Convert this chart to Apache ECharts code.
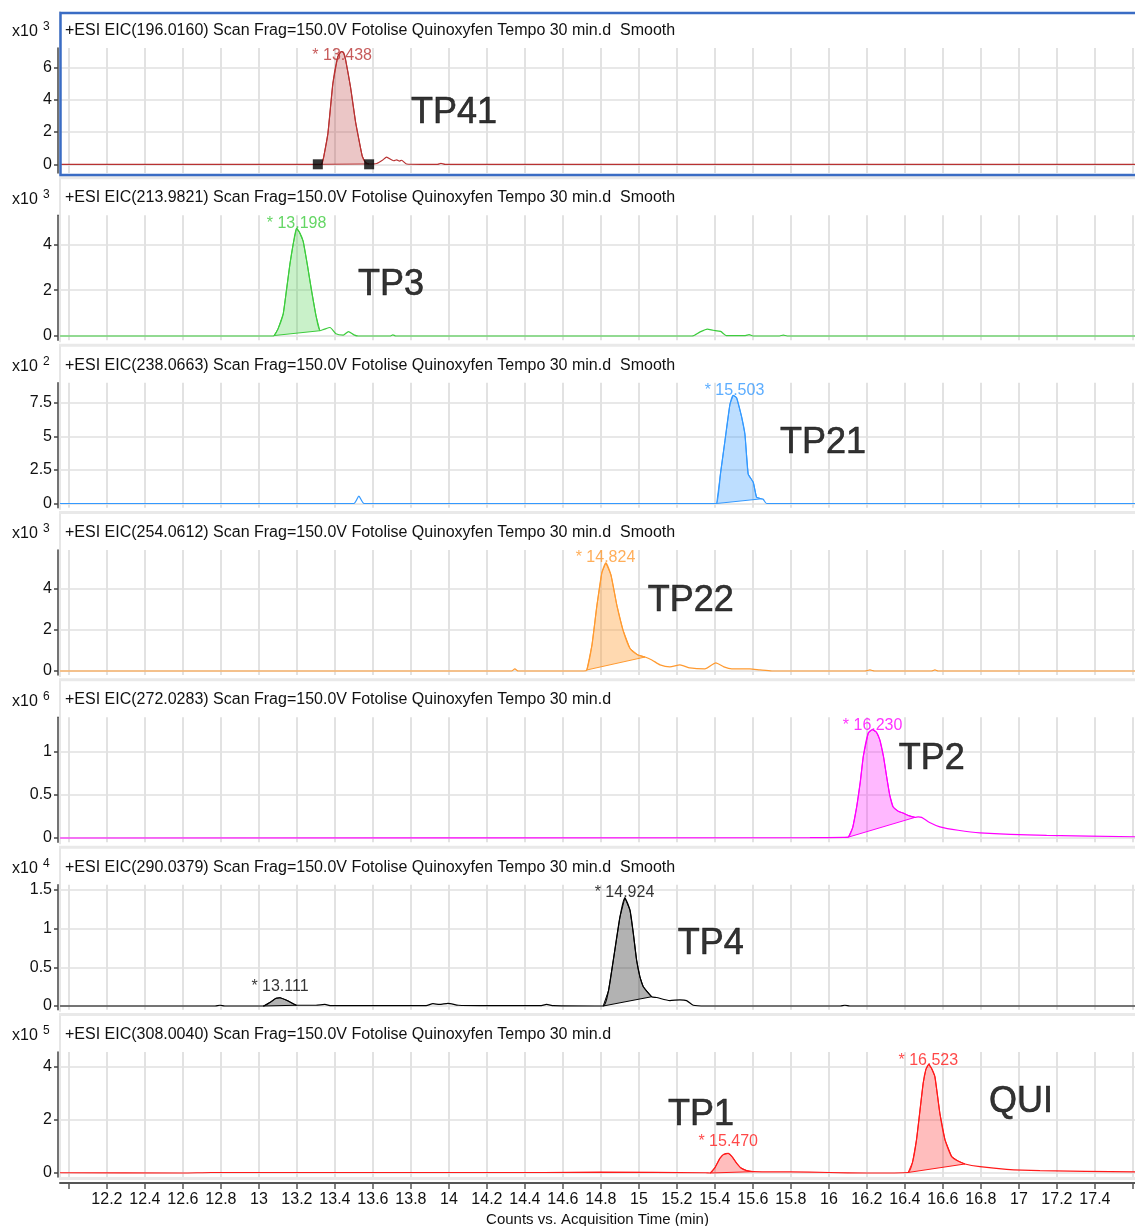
<!DOCTYPE html>
<html>
<head>
<meta charset="utf-8">
<script src="https://cdn.jsdelivr.net/npm/echarts@6/dist/echarts.min.js"></script>
<style>
  html, body { margin: 0; padding: 0; background: #fff; }
  #chart { width: 1135px; height: 1226px; }
</style>
</head>
<body>
<div id="chart"></div>
<script>
// x axis ticks (min) and labels
const timeTicks = [12.0, 12.2, 12.4, 12.6, 12.8, 13.0, 13.2, 13.4, 13.6, 13.8, 14.0, 14.2, 14.4, 14.6, 14.8,
  15.0, 15.2, 15.4, 15.6, 15.8, 16.0, 16.2, 16.4, 16.6, 16.8, 17.0, 17.2, 17.4, 17.6];
const timeLabels = [12.2, 12.4, 12.6, 12.8, 13, 13.2, 13.4, 13.6, 13.8, 14, 14.2, 14.4, 14.6, 14.8,
  15, 15.2, 15.4, 15.6, 15.8, 16, 16.2, 16.4, 16.6, 16.8, 17, 17.2, 17.4];

const headers = [
  '+ESI EIC(196.0160) Scan Frag=150.0V Fotolise Quinoxyfen Tempo 30 min.d  Smooth',
  '+ESI EIC(213.9821) Scan Frag=150.0V Fotolise Quinoxyfen Tempo 30 min.d  Smooth',
  '+ESI EIC(238.0663) Scan Frag=150.0V Fotolise Quinoxyfen Tempo 30 min.d  Smooth',
  '+ESI EIC(254.0612) Scan Frag=150.0V Fotolise Quinoxyfen Tempo 30 min.d  Smooth',
  '+ESI EIC(272.0283) Scan Frag=150.0V Fotolise Quinoxyfen Tempo 30 min.d',
  '+ESI EIC(290.0379) Scan Frag=150.0V Fotolise Quinoxyfen Tempo 30 min.d  Smooth',
  '+ESI EIC(308.0040) Scan Frag=150.0V Fotolise Quinoxyfen Tempo 30 min.d'
];
const exponents = ['3', '3', '2', '3', '6', '4', '5'];
const countTicks = [[0, 2, 4, 6], [0, 2, 4], [0, 2.5, 5, 7.5], [0, 2, 4], [0, 0.5, 1], [0, 0.5, 1, 1.5], [0, 2, 4]];

// chromatograms [time, counts / 10^n]
const eic196 = [[11.953, 0], [13.30, 0], [13.330, 0], [13.340, 0.4], [13.363, 1.9], [13.389, 5.0], [13.415, 6.68],
  [13.433, 7.0], [13.445, 6.95], [13.456, 6.5], [13.482, 4.8], [13.509, 2.6], [13.530, 1.3], [13.544, 0.5],
  [13.561, 0.1], [13.580, 0.02], [13.620, 0.05], [13.650, 0.25], [13.672, 0.45], [13.695, 0.3], [13.710, 0.22],
  [13.725, 0.28], [13.740, 0.2], [13.751, 0.25], [13.777, 0.02], [13.850, 0], [13.940, 0], [13.958, 0.06],
  [13.980, 0], [17.611, 0]];
const eic214 = [[11.953, 0], [13.070, 0], [13.080, 0.02], [13.100, 0.3], [13.128, 0.97], [13.145, 2.0], [13.163, 3.13],
  [13.180, 4.0], [13.198, 4.7], [13.215, 4.5], [13.233, 4.13], [13.255, 3.1], [13.277, 1.98], [13.300, 0.9],
  [13.321, 0.23], [13.345, 0.3], [13.374, 0.37], [13.405, 0.1], [13.444, 0.04], [13.471, 0.19], [13.500, 0.05],
  [13.523, 0], [13.690, 0], [13.705, 0.05], [13.720, 0], [15.280, 0], [15.320, 0.17], [15.360, 0.3], [15.390, 0.25],
  [15.430, 0.2], [15.460, 0.02], [15.560, 0.02], [15.580, 0.06], [15.600, 0], [15.740, 0], [15.760, 0.04],
  [15.780, 0], [17.611, 0]];
const eic238 = [[11.953, 0], [13.500, 0], [13.526, 0.55], [13.553, 0], [15.390, 0], [15.409, 0], [15.430, 2.3],
  [15.453, 4.7], [15.479, 7.4], [15.496, 8.07], [15.514, 7.9], [15.540, 6.5], [15.558, 5.17], [15.575, 2.2],
  [15.602, 1.58], [15.619, 0.47], [15.645, 0.35], [15.655, 0.3], [15.672, 0], [17.611, 0]];
const eic254 = [[11.953, 0], [14.330, 0], [14.347, 0.1], [14.365, 0], [14.710, 0], [14.726, 0.05], [14.753, 1.27],
  [14.779, 3.2], [14.805, 4.8], [14.826, 5.27], [14.853, 4.68], [14.884, 3.2], [14.916, 2.0], [14.953, 1.1],
  [14.995, 0.78], [15.032, 0.68], [15.068, 0.54], [15.111, 0.3], [15.163, 0.2], [15.216, 0.3], [15.268, 0.15],
  [15.347, 0.1], [15.405, 0.4], [15.447, 0.2], [15.489, 0.1], [15.584, 0.1], [15.637, 0.05], [15.700, 0],
  [16.190, 0], [16.216, 0.05], [16.240, 0], [16.540, 0], [16.558, 0.05], [16.575, 0], [17.611, 0]];
const eic272 = [[11.953, 0], [15.900, 0.004], [16.080, 0.008], [16.102, 0.01], [16.125, 0.12], [16.146, 0.36],
  [16.165, 0.65], [16.181, 0.95], [16.207, 1.22], [16.228, 1.26], [16.250, 1.23], [16.268, 1.14], [16.287, 0.95],
  [16.304, 0.71], [16.320, 0.5], [16.338, 0.36], [16.365, 0.31], [16.391, 0.29], [16.420, 0.26], [16.453, 0.24],
  [16.470, 0.245], [16.488, 0.24], [16.530, 0.18], [16.584, 0.13], [16.680, 0.09], [16.795, 0.06],
  [17.146, 0.03], [17.611, 0.015]];
const eic290 = [[11.953, 0], [12.770, 0], [12.795, 0.01], [12.820, 0], [13.023, 0], [13.060, 0.05], [13.090, 0.1],
  [13.111, 0.107], [13.150, 0.07], [13.180, 0.03], [13.198, 0.01], [13.300, 0.01], [13.347, 0.02], [13.380, 0.005],
  [13.880, 0.005], [13.916, 0.03], [13.950, 0.02], [13.995, 0.035], [14.050, 0.01], [14.163, 0.005],
  [14.480, 0.005], [14.514, 0.02], [14.550, 0.005], [14.812, 0], [14.840, 0.2], [14.865, 0.59], [14.900, 1.15],
  [14.926, 1.40], [14.953, 1.24], [14.970, 0.95], [14.988, 0.59], [15.005, 0.38], [15.023, 0.25], [15.067, 0.12],
  [15.093, 0.11], [15.163, 0.07], [15.216, 0.08], [15.251, 0.07], [15.286, 0.01], [15.350, 0], [16.060, 0],
  [16.084, 0.01], [16.110, 0], [17.611, 0]];
const eic308 = [[11.953, 0.01], [12.600, 0], [12.750, 0.02], [14.500, 0.02], [14.800, 0.03], [15.350, 0.01],
  [15.374, 0], [15.400, 0.2], [15.426, 0.55], [15.445, 0.7], [15.470, 0.74], [15.490, 0.62], [15.514, 0.37],
  [15.535, 0.2], [15.567, 0.09], [15.602, 0.05], [15.800, 0.04], [16.000, 0.02], [16.200, 0], [16.417, 0.02],
  [16.440, 0.4], [16.461, 1.25], [16.496, 3.38], [16.510, 3.9], [16.525, 4.1], [16.540, 3.95], [16.558, 3.63],
  [16.584, 2.25], [16.611, 1.25], [16.646, 0.62], [16.680, 0.45], [16.716, 0.34], [16.795, 0.24], [16.935, 0.14],
  [17.111, 0.09], [17.611, 0.04]];
const curves = [eic196, eic214, eic238, eic254, eic272, eic290, eic308];

// integrated peaks [start, end] (min)
const peaks = [
  [[13.330, 13.580]],
  [[13.080, 13.321]],
  [[15.409, 15.645]],
  [[14.726, 15.032]],
  [[16.102, 16.453]],
  [[13.023, 13.198], [14.812, 15.067]],
  [[15.374, 15.602], [16.417, 16.716]]
];
// integration markers on the first trace
const markers196 = [[13.31, 0], [13.58, 0]];

// retention time labels and compound names: [time, value at label, text]
const rtLabels = [
  [[13.438, 6.73, '* 13.438']],
  [[13.198, 4.89, '* 13.198']],
  [[15.503, 8.40, '* 15.503']],
  [[14.824, 5.51, '* 14.824']],
  [[16.230, 1.302, '* 16.230']],
  [[13.111, 0.246, '* 13.111'], [14.924, 1.462, '* 14.924']],
  [[15.470, 1.17, '* 15.470'], [16.523, 4.23, '* 16.523']]
];
const names = [
  [[13.80, 3.19, 'TP41']],
  [[13.521, 2.23, 'TP3']],
  [[15.742, 4.51, 'TP21']],
  [[15.047, 3.41, 'TP22']],
  [[16.368, 0.919, 'TP2']],
  [[15.205, 0.80, 'TP4']],
  [[15.153, 2.19, 'TP1'], [16.842, 2.68, 'QUI']]
];

const lineColors = ['#b83232', '#3dcc3d', '#3399ff', '#ff9a30', '#ff00ff', '#000000', '#ff1a1a'];
const fillColors = ['rgba(184,50,50,0.28)', 'rgba(61,204,61,0.28)', 'rgba(51,153,255,0.32)', 'rgba(255,154,48,0.38)',
  'rgba(255,0,255,0.28)', 'rgba(0,0,0,0.3)', 'rgba(255,0,0,0.26)'];
const yRanges = [[-0.54, 7.22], [-0.189, 5.265], [-0.31, 9.018], [-0.195, 5.902], [-0.05, 1.403], [-0.047, 1.570], [-0.15, 4.567]];

const FONT = 'Liberation Sans, Arial, sans-serif';
const panelTop = i => 12 + 167.33 * i;

const chart = echarts.init(document.getElementById('chart'));

const grids = [], xAxes = [], yAxes = [], series = [], graphics = [];

curves.forEach((curve, i) => {
  const T = panelTop(i);
  const last = i === curves.length - 1;
  grids.push({ left: 60, right: 0, top: T + 36, height: 125, outerBoundsMode: 'none', containLabel: false });
  xAxes.push({
    gridIndex: i, type: 'value', min: 11.953, max: 17.611,
    axisLine: { show: last, onZero: false, lineStyle: { color: '#555', width: 2 } },
    offset: last ? 6 : 0,
    axisTick: { show: last, length: 6, customValues: timeTicks, lineStyle: { color: '#555', width: 1.5 } },
    axisLabel: {
      show: last, customValues: timeLabels, fontSize: 16, color: '#111', fontFamily: FONT, margin: 9,
      formatter: v => String(+v.toFixed(1))
    },
    splitLine: { show: true, lineStyle: { color: '#e2e2e2', width: 2 } },
    name: last ? 'Counts vs. Acquisition Time (min)' : '',
    nameLocation: 'middle', nameGap: 29,
    nameTextStyle: { fontSize: 15, color: '#111', fontFamily: FONT }
  });
  yAxes.push({
    gridIndex: i, type: 'value', min: yRanges[i][0], max: yRanges[i][1], offset: 2,
    axisLine: { show: true, lineStyle: { color: '#444', width: 1.5 } },
    axisTick: { show: true, length: 4, customValues: countTicks[i], lineStyle: { color: '#444', width: 1.5 } },
    axisLabel: { customValues: countTicks[i], fontSize: 16, color: '#111', fontFamily: FONT, margin: 6 },
    splitLine: { show: true, lineStyle: { color: '#e8e8e8', width: 2 } }
  });

  // integrated area: trace between start and end, closed by a straight baseline
  series.push({
    type: 'custom', xAxisIndex: i, yAxisIndex: i, silent: true, z: 2,
    data: peaks[i],
    renderItem: (params, api) => {
      const a = api.value(0), b = api.value(1);
      const pts = curve.filter(p => p[0] >= a - 1e-9 && p[0] <= b + 1e-9).map(p => api.coord(p));
      return {
        type: 'polygon', shape: { points: pts },
        style: { fill: fillColors[i], stroke: lineColors[i], lineWidth: 1 }
      };
    }
  });
  series.push({
    type: 'line', xAxisIndex: i, yAxisIndex: i, data: curve, showSymbol: false, smooth: 0.2,
    lineStyle: { color: lineColors[i], width: 1.2 }, z: 3, silent: true
  });
  series.push({
    type: 'scatter', xAxisIndex: i, yAxisIndex: i, symbolSize: 0, silent: true, z: 4,
    data: rtLabels[i].map(d => ({ value: [d[0], d[1]], name: d[2] })),
    label: { show: true, position: 'inside', formatter: p => p.name, color: lineColors[i], fontSize: 16, fontFamily: FONT }
  });
  series.push({
    type: 'scatter', xAxisIndex: i, yAxisIndex: i, symbolSize: 0, silent: true, z: 4,
    data: names[i].map(d => ({ value: [d[0], d[1]], name: d[2] })),
    label: {
      show: true, position: 'right', distance: 0, formatter: p => p.name, color: '#000',
      fontSize: 36, fontFamily: FONT, textBorderColor: '#000', textBorderWidth: 0.6
    }
  });

  // panel frame, header and exponent
  graphics.push({ type: 'rect', shape: { x: 59, y: T - 1, width: 2, height: 164 }, style: { fill: '#e6e6e6' }, z: 0 });
  if (i > 0) {
    graphics.push({ type: 'rect', shape: { x: 59, y: T - 3, width: 1080, height: 3 }, style: { fill: '#e9e9e9' }, z: 0 });
  }
  graphics.push({
    type: 'text', x: 65, y: T + 18.5,
    style: { text: headers[i], font: '16px ' + FONT, fill: '#111', textVerticalAlign: 'middle' }
  });
  graphics.push({
    type: 'text', x: 12, y: T + 20,
    style: { text: 'x10', font: '16px ' + FONT, fill: '#111', textVerticalAlign: 'middle' }
  });
  graphics.push({
    type: 'text', x: 43, y: T + 15,
    style: { text: exponents[i], font: '12px ' + FONT, fill: '#111', textVerticalAlign: 'middle' }
  });
});

series.push({
  type: 'scatter', xAxisIndex: 0, yAxisIndex: 0, data: markers196, symbol: 'rect', symbolSize: 10,
  itemStyle: { color: '#000' }, z: 5, silent: true
});

graphics.push({ type: 'rect', shape: { x: 59, y: 1177, width: 1080, height: 3 }, style: { fill: '#e9e9e9' }, z: 0 });
graphics.push({
  type: 'rect', shape: { x: 60.5, y: 13, width: 1090, height: 162 },
  style: { fill: null, stroke: '#3a6cc4', lineWidth: 2.5 }, z: 10
});

chart.setOption({
  animation: false,
  backgroundColor: '#fff',
  grid: grids,
  xAxis: xAxes,
  yAxis: yAxes,
  series: series,
  graphic: graphics
});
</script>
</body>
</html>
